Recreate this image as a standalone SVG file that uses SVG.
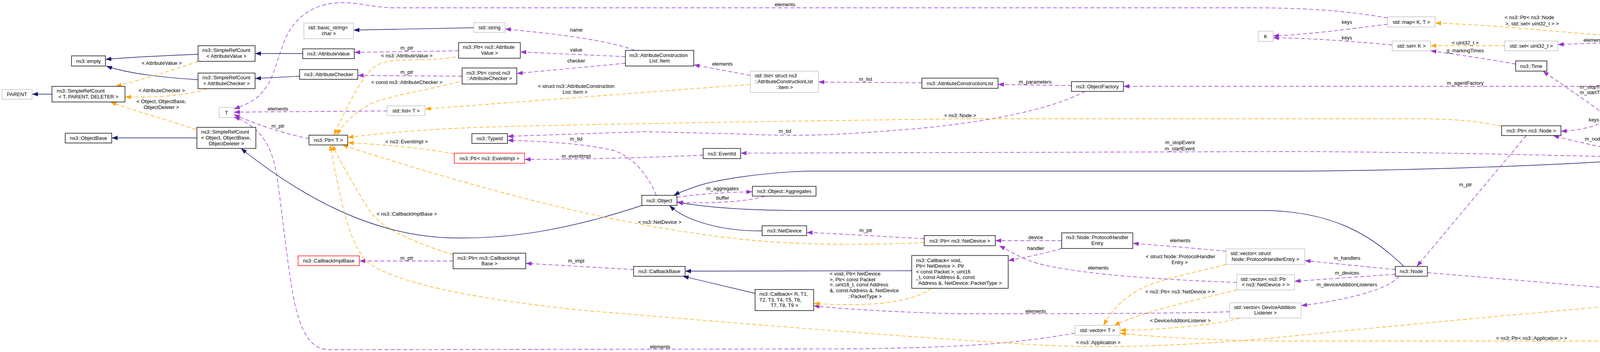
<svg xmlns="http://www.w3.org/2000/svg" width="4939" height="901" viewBox="0 0 4939 901">
<style>
text{font-family:"Liberation Sans",Arial,Helvetica,sans-serif;font-size:13px;fill:#000}
.c{text-anchor:middle}
.s{text-anchor:start}
.nb{fill:#fff;stroke:#000;stroke-width:1.4}
.ng{fill:#fff;stroke:#bfbfbf;stroke-width:1.4}
.nr{fill:#fff;stroke:#ff0000;stroke-width:1.4}
.nf{fill:#bfbfbf;stroke:#000;stroke-width:1.4}
.e{fill:none;stroke-width:1.4}
.inh{stroke:#191970;marker-end:url(#ab)}
.use{stroke:#9a32cd;stroke-dasharray:10,6;marker-end:url(#ap)}
.tpl{stroke:#ffa500;stroke-dasharray:10,6;marker-end:url(#ao)}
</style>
<defs>
<marker id="ab" markerUnits="userSpaceOnUse" markerWidth="16" markerHeight="12" refX="15" refY="5.5" orient="auto" viewBox="0 0 16 12"><path d="M0,0L15,5.5L0,11z" fill="#191970"/></marker>
<marker id="ap" markerUnits="userSpaceOnUse" markerWidth="16" markerHeight="12" refX="15" refY="5.5" orient="auto" viewBox="0 0 16 12"><path d="M0,0L15,5.5L0,11z" fill="#9a32cd"/></marker>
<marker id="ao" markerUnits="userSpaceOnUse" markerWidth="16" markerHeight="12" refX="15" refY="5.5" orient="auto" viewBox="0 0 16 12"><path d="M0,0L15,5.5L0,11z" fill="#ffa500"/></marker>
</defs>
<rect width="4939" height="901" fill="#fff"/>
<g id="connectors">
<path class="e inh" d="M133,241L82,241"/>
<path class="e inh" d="M507,139C430,142 340,146 270,152"/>
<path class="e inh" d="M507,204C440,200 330,190 272,169"/>
<path class="e tpl" d="M508,157C440,180 360,205 296,221"/>
<path class="e tpl" d="M529,227C480,245 400,250 320,248"/>
<path class="e tpl" d="M502,332C440,310 330,280 283,261"/>
<path class="e inh" d="M504,353L286,353"/>
<path class="e inh" d="M1643,526C1450,590 1300,612 1159,609C960,605 780,510 617,380"/>
<path class="e inh" d="M1213,71L905,77"/>
<path class="e inh" d="M775,137L653,137"/>
<path class="e inh" d="M767,195L653,201"/>
<path class="e use" d="M1174,130L907,134"/>
<path class="e tpl" d="M1167,146C1060,162 990,140 950,178C915,215 880,290 855,346"/>
<path class="e use" d="M1183,195L916,193"/>
<path class="e tpl" d="M1175,209C1080,235 990,245 945,268C905,290 880,315 862,346"/>
<path class="e use" d="M1625,129C1550,100 1400,85 1293,74"/>
<path class="e use" d="M1601,145L1332,133"/>
<path class="e use" d="M1601,162L1323,188"/>
<path class="e use" d="M1921,193L1776,166"/>
<path class="e tpl" d="M1921,216L1088,279"/>
<path class="e use" d="M2360,212L2095,210"/>
<path class="e use" d="M2743,219L2555,216"/>
<path class="e use" d="M2778,234C2680,285 2500,318 2300,333C2150,345 2050,350 1900,343L1650,337L1299,349"/>
<path class="e use" d="M1680,500C1660,450 1620,400 1570,385C1500,368 1400,362 1299,359"/>
<path class="e use" d="M4524,183C4400,215 4250,221 4127,221L2876,221"/>
<path class="e inh" d="M4524,171L4301,171"/>
<path class="e use" d="M4520,159L4291,117"/>
<path class="e tpl" d="M4151,93C4030,86 3850,65 3674,59"/>
<path class="e use" d="M4151,108L3988,114"/>
<path class="e use" d="M4152,133C4120,170 4135,240 4132,280C4128,315 4060,333 3996,336"/>
<path class="e tpl" d="M3852,117L3662,117"/>
<path class="e use" d="M3564,115C3450,105 3350,97 3259,97"/>
<path class="e use" d="M3552,62C3450,75 3350,88 3259,92"/>
<path class="e use" d="M3552,46C3450,28 3350,20 3200,20L1005,20C950,18 910,5 870,7C790,10 750,55 730,100C710,150 700,200 680,225C660,255 630,268 599,279"/>
<path class="e use" d="M991,284L599,287"/>
<path class="e use" d="M791,355C720,340 660,320 599,293"/>
<path class="e use" d="M2752,853C2600,878 2500,888 2200,893L840,895C790,893 770,840 755,780C735,680 725,560 710,460C700,390 680,330 599,299"/>
<path class="e tpl" d="M3844,323C3760,306 3700,304 3600,304L2470,304C2000,310 1500,318 1254,325C1100,330 980,340 890,352"/>
<path class="e tpl" d="M1163,394C1080,378 980,370 890,365"/>
<path class="e use" d="M1800,397C1700,402 1500,408 1343,408"/>
<path class="e use" d="M4164,402C4000,398 3600,388 3280,388L1896,392"/>
<path class="e use" d="M4164,392C4100,375 4030,362 3976,347"/>
<path class="e use" d="M4210,392C4160,320 4060,260 3950,182"/>
<path class="e use" d="M3880,164C3800,150 3720,138 3662,130"/>
<path class="e inh" d="M4164,410C4000,422 3600,438 3280,438L2064,438C1950,442 1830,460 1780,478C1760,485 1740,492 1725,500"/>
<path class="e inh" d="M3594,682C3500,590 3400,545 3254,539L2063,539C1900,539 1800,530 1733,517"/>
<path class="e inh" d="M1951,591C1860,592 1760,570 1714,526"/>
<path class="e use" d="M1733,505C1800,495 1870,492 1926,491"/>
<path class="e use" d="M1958,502C1900,520 1800,520 1733,518"/>
<path class="e use" d="M2366,611C2250,605 2150,598 2065,595"/>
<path class="e tpl" d="M2366,621C2200,628 2000,630 1800,600C1500,560 1150,460 876,371"/>
<path class="e use" d="M2718,616L2548,616"/>
<path class="e use" d="M2718,636C2670,650 2620,660 2581,667"/>
<path class="e use" d="M3139,643C3050,635 2970,628 2900,623"/>
<path class="e tpl" d="M3139,677C3050,700 2960,715 2910,745C2860,775 2840,805 2825,833"/>
<path class="e use" d="M3166,723C2980,716 2800,705 2680,680C2620,667 2590,645 2558,629"/>
<path class="e tpl" d="M3166,742C3050,770 2920,800 2852,833"/>
<path class="e use" d="M3148,798C3000,803 2700,803 2460,803C2300,800 2150,790 2083,783"/>
<path class="e tpl" d="M3175,814C3100,835 2950,845 2867,845"/>
<path class="e tpl" d="M2384,738C2350,765 2270,780 2180,780C2140,780 2110,778 2083,777"/>
<path class="e inh" d="M2334,693L1754,694"/>
<path class="e inh" d="M1933,751L1748,707"/>
<path class="e use" d="M1622,690L1346,674"/>
<path class="e use" d="M1160,668L920,668"/>
<path class="e tpl" d="M1160,652C1060,620 970,585 940,530C910,480 880,430 850,371"/>
<path class="e tpl" d="M4488,751C4300,768 3700,820 3290,862C3100,880 2900,892 2700,885C2400,870 1800,820 1500,795C1200,765 1000,720 940,670C890,620 870,500 845,371"/>
<path class="e tpl" d="M4814,812C4760,850 4700,873 4603,873L3290,873C3100,872 2950,862 2867,853"/>
<path class="e use" d="M3572,690L3340,667"/>
<path class="e use" d="M3572,702L3314,720"/>
<path class="e use" d="M3582,707C3560,730 3530,740 3480,755C3420,770 3370,778 3331,782"/>
<path class="e use" d="M3907,347L3627,682"/>
<path class="e use" d="M3654,698C3900,718 4200,745 4400,760C4550,772 4700,782 4782,787"/>
<path class="e use" d="M4782,778C4740,770 4700,762 4656,754"/>
<path class="e use" d="M4565,729C4480,630 4300,480 4240,418"/>
<g id="edge-labels">
<text class="c" x="414" y="165.5">&lt; AttributeValue &gt;</text>
<text class="c" x="414" y="236">&lt; AttributeChecker &gt;</text>
<text class="c" x="413" y="264">&lt; Object, ObjectBase,</text>
<text class="c" x="413" y="279">ObjectDeleter &gt;</text>
<text class="c" x="711.5" y="283">elements</text>
<text class="c" x="711.5" y="327">m_ptr</text>
<text class="c" x="1475" y="80.5">name</text>
<text class="c" x="1041.5" y="127">m_ptr</text>
<text class="c" x="1041.5" y="147">&lt; ns3::AttributeValue &gt;</text>
<text class="c" x="1475" y="132">value</text>
<text class="c" x="1475" y="160">checker</text>
<text class="c" x="1041.5" y="189">m_ptr</text>
<text class="c" x="1041.5" y="215">&lt; const ns3::AttributeChecker &gt;</text>
<text class="c" x="1475" y="224.5">&lt; struct ns3::AttributeConstruction</text>
<text class="c" x="1472" y="239.5">List::Item &gt;</text>
<text class="c" x="1475" y="360">m_tid</text>
<text class="c" x="1041" y="367">&lt; ns3::EventImpl &gt;</text>
<text class="c" x="1475" y="404">m_eventImpl</text>
<text class="c" x="2009.5" y="16">elements</text>
<text class="c" x="1849.5" y="167.5">elements</text>
<text class="c" x="2216" y="207">m_list</text>
<text class="c" x="2458" y="300">&lt; ns3::Node &gt;</text>
<text class="c" x="2009.5" y="340">m_tid</text>
<text class="c" x="2650" y="213.5">m_parameters</text>
<text class="c" x="3021" y="369">m_stopEvent</text>
<text class="c" x="3020" y="384.5">m_startEvent</text>
<text class="c" x="3751" y="217">m_agentFactory</text>
<text class="c" x="3448" y="61">keys</text>
<text class="c" x="3448" y="101">keys</text>
<text class="c" x="3751" y="113.5">&lt; uint32_t &gt;</text>
<text class="c" x="3751" y="133.5">g_markingTimes</text>
<text class="s" x="3852" y="49">&lt; ns3::Ptr&lt; ns3::Node</text>
<text class="c" x="3922" y="64.5">&gt;, std::set&lt; uint32_t &gt; &gt;</text>
<text class="c" x="4080" y="107">elements</text>
<text class="c" x="4080" y="227">m_stopTime</text>
<text class="c" x="4080" y="241">m_startTime</text>
<text class="c" x="4080.5" y="311">keys</text>
<text class="c" x="4080.5" y="359.5">m_node</text>
<text class="c" x="4396" y="121">m_interfaceExclusions</text>
<text class="c" x="1041.5" y="551.5">&lt; ns3::CallbackImplBase &gt;</text>
<text class="c" x="1041.5" y="664.5">m_ptr</text>
<text class="c" x="1475" y="671.5">m_impl</text>
<text class="c" x="1689" y="572.5">&lt; ns3::NetDevice &gt;</text>
<text class="c" x="1849.5" y="487">m_aggregates</text>
<text class="c" x="1850" y="511">buffer</text>
<text class="c" x="2216.5" y="593.5">m_ptr</text>
<text class="s" x="2124" y="704.5">&lt; void, Ptr&lt; NetDevice</text>
<text class="s" x="2124" y="719.5">&gt;, Ptr&lt; const Packet</text>
<text class="s" x="2124" y="733">&gt;, uint16_t, const Address</text>
<text class="s" x="2124" y="748">&amp;, const Address &amp;, NetDevice</text>
<text class="c" x="2214" y="763">::PacketType &gt;</text>
<text class="c" x="1690" y="892">elements</text>
<text class="c" x="2651.5" y="612">device</text>
<text class="c" x="2651.5" y="640">handler</text>
<text class="c" x="3021.5" y="620">elements</text>
<text class="c" x="3022" y="661">&lt; struct Node::ProtocolHandler</text>
<text class="c" x="3020" y="676">Entry &gt;</text>
<text class="c" x="2811.5" y="689.5">elements</text>
<text class="c" x="3021" y="751">&lt; ns3::Ptr&lt; ns3::NetDevice &gt; &gt;</text>
<text class="c" x="2651.5" y="801">elements</text>
<text class="c" x="3021.5" y="824.5">&lt; DeviceAdditionListener &gt;</text>
<text class="c" x="2811.5" y="881">&lt; ns3::Application &gt;</text>
<text class="c" x="3448.5" y="665">m_handlers</text>
<text class="c" x="3448.5" y="703">m_devices</text>
<text class="c" x="3448" y="733">m_deviceAdditionListeners</text>
<text class="c" x="3751.5" y="477">m_ptr</text>
<text class="c" x="3921" y="869.5">&lt; ns3::Ptr&lt; ns3::Application &gt; &gt;</text>
<text class="c" x="4396.5" y="500.5">m_ptr</text>
<text class="c" x="4222" y="735">m_applications</text>
<text class="c" x="4729.5" y="759">elements</text>
</g>
</g>
<g id="n_parent"><rect class="ng" x="5" y="229" width="77" height="25"/><text class="c" x="43.5" y="246">PARENT</text></g>
<g id="n_src_tpd"><rect class="nb" x="133" y="221" width="187" height="40"/><text class="s" x="145" y="237">ns3::SimpleRefCount</text><text class="c" x="226.5" y="252">&lt; T, PARENT, DELETER &gt;</text></g>
<g id="n_empty"><rect class="nb" x="183" y="143" width="87" height="26"/><text class="c" x="226.5" y="160.5">ns3::empty</text></g>
<g id="n_src_av"><rect class="nb" x="507" y="117" width="146" height="40"/><text class="s" x="518" y="133">ns3::SimpleRefCount</text><text class="c" x="580" y="148">&lt; AttributeValue &gt;</text></g>
<g id="n_src_ac"><rect class="nb" x="507" y="187" width="146" height="40"/><text class="s" x="518" y="203">ns3::SimpleRefCount</text><text class="c" x="580" y="217.5">&lt; AttributeChecker &gt;</text></g>
<g id="n_objectbase"><rect class="nb" x="167" y="341" width="119" height="25"/><text class="c" x="226.5" y="358">ns3::ObjectBase</text></g>
<g id="n_src_obj"><rect class="nb" x="504" y="326" width="151" height="54"/><text class="s" x="515" y="342">ns3::SimpleRefCount</text><text class="s" x="515" y="357">&lt; Object, ObjectBase,</text><text class="c" x="579.5" y="371.5">ObjectDeleter &gt;</text></g>
<g id="n_T"><rect class="ng" x="561" y="275" width="38" height="26"/><text class="c" x="580" y="292.5">T</text></g>
<g id="n_basic_string"><rect class="ng" x="778" y="59" width="127" height="40"/><text class="s" x="789" y="75">std::basic_string&lt;</text><text class="c" x="841.5" y="89.5">char &gt;</text></g>
<g id="n_attrvalue"><rect class="nb" x="775" y="125" width="132" height="25"/><text class="c" x="841" y="142">ns3::AttributeValue</text></g>
<g id="n_attrchecker"><rect class="nb" x="767" y="178" width="149" height="25"/><text class="c" x="841.5" y="195">ns3::AttributeChecker</text></g>
<g id="n_ptrT"><rect class="nb" x="791" y="346" width="99" height="25"/><text class="c" x="840.5" y="363">ns3::Ptr&lt; T &gt;</text></g>
<g id="n_cbimplbase"><rect class="nr" x="763" y="655" width="157" height="25"/><text class="c" x="841.5" y="672">ns3::CallbackImplBase</text></g>
<g id="n_string"><rect class="ng" x="1213" y="58" width="80" height="25"/><text class="c" x="1253" y="75">std::string</text></g>
<g id="n_ptr_av"><rect class="nb" x="1174" y="109" width="158" height="40"/><text class="s" x="1185" y="125">ns3::Ptr&lt; ns3::Attribute</text><text class="c" x="1253" y="139.5">Value &gt;</text></g>
<g id="n_ptr_ac"><rect class="nb" x="1183" y="174" width="140" height="41"/><text class="s" x="1194" y="191">ns3::Ptr&lt; const ns3</text><text class="c" x="1253" y="205">::AttributeChecker &gt;</text></g>
<g id="n_listT"><rect class="ng" x="991" y="271" width="97" height="25"/><text class="c" x="1039.5" y="288">std::list&lt; T &gt;</text></g>
<g id="n_typeid"><rect class="nb" x="1208" y="342" width="91" height="25"/><text class="c" x="1253.5" y="359">ns3::TypeId</text></g>
<g id="n_ptr_eventimpl"><rect class="nr" x="1163" y="392" width="180" height="26"/><text class="c" x="1253" y="409.5">ns3::Ptr&lt; ns3::EventImpl &gt;</text></g>
<g id="n_ptr_cib"><rect class="nb" x="1160" y="648" width="186" height="40"/><text class="s" x="1171" y="664.5">ns3::Ptr&lt; ns3::CallbackImpl</text><text class="c" x="1253" y="679">Base &gt;</text></g>
<g id="n_acl_item"><rect class="nb" x="1601" y="129" width="175" height="40"/><text class="s" x="1611" y="145.5">ns3::AttributeConstruction</text><text class="c" x="1688.5" y="160">List::Item</text></g>
<g id="n_list_item"><rect class="ng" x="1921" y="182" width="174" height="55"/><text class="s" x="1932" y="198">std::list&lt; struct ns3</text><text class="s" x="1932" y="213">::AttributeConstructionList</text><text class="c" x="2008" y="227.5">::Item &gt;</text></g>
<g id="n_acl"><rect class="nb" x="2360" y="200" width="195" height="26"/><text class="c" x="2457.5" y="217.5">ns3::AttributeConstructionList</text></g>
<g id="n_eventid"><rect class="nb" x="1800" y="380" width="96" height="26"/><text class="c" x="1848" y="397.5">ns3::EventId</text></g>
<g id="n_object"><rect class="nb" x="1643" y="500" width="90" height="26"/><text class="c" x="1688" y="517.5">ns3::Object</text></g>
<g id="n_aggregates"><rect class="nb" x="1926" y="477" width="163" height="25"/><text class="c" x="2007.5" y="494">ns3::Object::Aggregates</text></g>
<g id="n_netdevice"><rect class="nb" x="1951" y="578" width="114" height="25"/><text class="c" x="2008" y="595">ns3::NetDevice</text></g>
<g id="n_ptr_nd"><rect class="nb" x="2366" y="603" width="182" height="26"/><text class="c" x="2457" y="620.5">ns3::Ptr&lt; ns3::NetDevice &gt;</text></g>
<g id="n_cb_void"><rect class="nb" x="2334" y="654" width="247" height="84"/><text class="s" x="2345" y="670.5">ns3::Callback&lt; void,</text><text class="s" x="2345" y="685">Ptr&lt; NetDevice &gt;, Ptr</text><text class="s" x="2345" y="699.5">&lt; const Packet &gt;, uint16</text><text class="s" x="2345" y="714">_t, const Address &amp;, const</text><text class="c" x="2457.5" y="729">Address &amp;, NetDevice::PacketType &gt;</text></g>
<g id="n_callbackbase"><rect class="nb" x="1622" y="682" width="132" height="25"/><text class="c" x="1688" y="699">ns3::CallbackBase</text></g>
<g id="n_cb_R"><rect class="nb" x="1933" y="741" width="150" height="54"/><text class="s" x="1944" y="757">ns3::Callback&lt; R, T1,</text><text class="s" x="1944" y="771.5">T2, T3, T4, T5, T6,</text><text class="c" x="2008" y="786">T7, T8, T9 &gt;</text></g>
<g id="n_objfactory"><rect class="nb" x="2743" y="209" width="133" height="25"/><text class="c" x="2809.5" y="226">ns3::ObjectFactory</text></g>
<g id="n_K"><rect class="ng" x="3221" y="80" width="38" height="26"/><text class="c" x="3240" y="97.5">K</text></g>
<g id="n_phe"><rect class="nb" x="2718" y="596" width="182" height="40"/><text class="s" x="2729" y="612">ns3::Node::ProtocolHandler</text><text class="c" x="2809" y="627">Entry</text></g>
<g id="n_vec_phe"><rect class="ng" x="3139" y="637" width="201" height="40"/><text class="s" x="3150" y="653">std::vector&lt; struct</text><text class="c" x="3239.5" y="668">Node::ProtocolHandlerEntry &gt;</text></g>
<g id="n_vec_ptrnd"><rect class="ng" x="3166" y="703" width="148" height="39"/><text class="s" x="3176" y="719">std::vector&lt; ns3::Ptr</text><text class="c" x="3240" y="733">&lt; ns3::NetDevice &gt; &gt;</text></g>
<g id="n_vec_dal"><rect class="ng" x="3148" y="775" width="183" height="39"/><text class="s" x="3159" y="791">std::vector&lt; DeviceAddition</text><text class="c" x="3239.5" y="805">Listener &gt;</text></g>
<g id="n_vecT"><rect class="ng" x="2752" y="833" width="115" height="25"/><text class="c" x="2809.5" y="850">std::vector&lt; T &gt;</text></g>
<g id="n_mapKT"><rect class="ng" x="3552" y="43" width="122" height="26"/><text class="c" x="3613" y="60.5">std::map&lt; K, T &gt;</text></g>
<g id="n_setK"><rect class="ng" x="3564" y="105" width="98" height="25"/><text class="c" x="3613" y="122">std::set&lt; K &gt;</text></g>
<g id="n_set_u32"><rect class="ng" x="3852" y="105" width="136" height="25"/><text class="c" x="3920" y="122">std::set&lt; uint32_t &gt;</text></g>
<g id="n_time"><rect class="nb" x="3880" y="156" width="80" height="26"/><text class="c" x="3920" y="173.5">ns3::Time</text></g>
<g id="n_ptr_node"><rect class="nb" x="3844" y="322" width="152" height="25"/><text class="c" x="3920" y="339">ns3::Ptr&lt; ns3::Node &gt;</text></g>
<g id="n_node"><rect class="nb" x="3572" y="682" width="82" height="25"/><text class="c" x="3613" y="699">ns3::Node</text></g>
<g id="n_map_node"><rect class="ng" x="4151" y="78" width="140" height="54"/><text class="s" x="4163" y="94.5">std::map&lt; ns3::Ptr</text><text class="s" x="4163" y="109">&lt; ns3::Node &gt;, std::</text><text class="c" x="4221" y="123">set&lt; uint32_t &gt; &gt;</text></g>
<g id="n_ipv4"><rect class="nb" x="4142" y="158" width="159" height="25"/><text class="c" x="4221.5" y="175">ns3::Ipv4RoutingHelper</text></g>
<g id="n_olsr"><rect class="nf" x="4524" y="158" width="114" height="25"/><text class="c" x="4581" y="175">ns3::OlsrHelper</text></g>
<g id="n_app"><rect class="nb" x="4164" y="392" width="114" height="26"/><text class="c" x="4221" y="409.5">ns3::Application</text></g>
<g id="n_ptr_app"><rect class="nb" x="4488" y="729" width="186" height="25"/><text class="c" x="4581" y="746">ns3::Ptr&lt; ns3::Application &gt;</text></g>
<g id="n_vec_ptrapp"><rect class="ng" x="4782" y="772" width="151" height="40"/><text class="s" x="4793" y="788">std::vector&lt; ns3::Ptr</text><text class="c" x="4857.5" y="803">&lt; ns3::Application &gt; &gt;</text></g>
</svg>
